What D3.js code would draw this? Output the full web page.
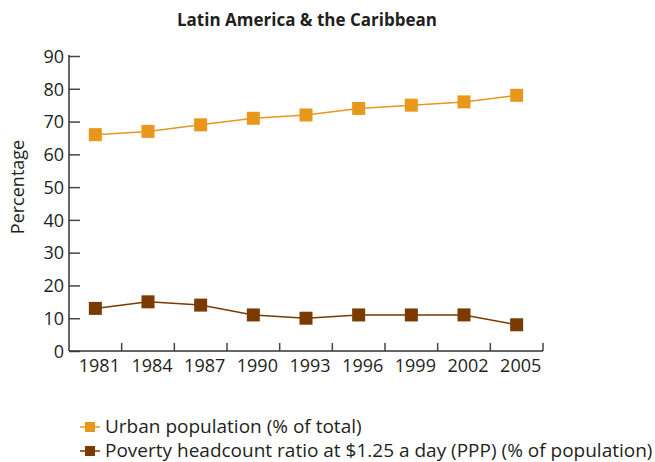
<!DOCTYPE html>
<html>
<head>
<meta charset="utf-8">
<script src="https://cdn.jsdelivr.net/npm/d3@7"></script>
<style>
  body { margin: 0; background: #fff; }
  svg text { font-family: "Open Sans", "Noto Sans", sans-serif; fill: #231f20; }
</style>
</head>
<body>
<div id="chart"></div>
<script>
// data
var years = ["1981", "1984", "1987", "1990", "1993", "1996", "1999", "2002", "2005"];
var urbanValues = [66, 67, 69, 71, 72, 74, 75, 76, 78];
var povertyValues = [13, 15, 14, 11, 10, 11, 11, 11, 8];
var seriesNames = ["Urban population (% of total)", "Poverty headcount ratio at $1.25 a day (PPP) (% of population)"];
var yTicks = [0, 10, 20, 30, 40, 50, 60, 70, 80, 90];

var width = 655, height = 462;
var plotLeft = 69, plotRight = 543, plotTop = 56, plotBottom = 351;
var colors = ["#e8961c", "#7a3a00"];

var svg = d3.select("#chart").append("svg")
  .attr("width", width)
  .attr("height", height);

var x = d3.scaleBand().domain(years).range([plotLeft, plotRight]).padding(0);
var y = d3.scaleLinear().domain([0, 90]).range([plotBottom, plotTop]);

// title
svg.append("text")
  .attr("x", 307).attr("y", 26)
  .attr("text-anchor", "middle")
  .style("font-size", "17px").style("font-weight", "bold")
  .text("Latin America & the Caribbean");

// y axis, ticks pointing inward
var yAxis = svg.append("g")
  .attr("transform", "translate(" + plotLeft + ",0)")
  .call(d3.axisRight(y).tickValues(yTicks).tickSize(11).tickFormat(d3.format("d")));
yAxis.select(".domain").remove();
yAxis.selectAll(".tick line").attr("stroke", "#444").attr("stroke-width", 1.5);
yAxis.selectAll(".tick text")
  .attr("x", -5).attr("dy", "0.35em")
  .attr("text-anchor", "end")
  .style("font-size", "18px").style("font-family", "'Open Sans', sans-serif");
svg.append("line")
  .attr("x1", plotLeft).attr("x2", plotLeft)
  .attr("y1", y(90) - 1).attr("y2", plotBottom)
  .attr("stroke", "#333").attr("stroke-width", 1.5);

// x axis: labels at band centres, ticks at band edges pointing up
var xAxis = svg.append("g")
  .attr("transform", "translate(0," + plotBottom + ")")
  .call(d3.axisBottom(x).tickSize(0).tickPadding(8));
xAxis.select(".domain").remove();
xAxis.selectAll(".tick text")
  .attr("dx", 4)
  .style("font-size", "18px").style("font-family", "'Open Sans', sans-serif");
svg.append("g").selectAll("line")
  .data(years)
  .join("line")
  .attr("x1", d => x(d) + x.bandwidth()).attr("x2", d => x(d) + x.bandwidth())
  .attr("y1", plotBottom).attr("y2", plotBottom - 8)
  .attr("stroke", "#444").attr("stroke-width", 1.5);
svg.append("line")
  .attr("x1", plotLeft).attr("x2", plotRight)
  .attr("y1", plotBottom).attr("y2", plotBottom)
  .attr("stroke", "#333").attr("stroke-width", 1.5);

// y axis title
svg.append("text")
  .attr("transform", "translate(24,187) rotate(-90)")
  .attr("text-anchor", "middle")
  .style("font-size", "18px")
  .text("Percentage");

// series
var series = [urbanValues, povertyValues];
var line = d3.line()
  .x((d, i) => x(years[i]) + x.bandwidth() / 2)
  .y(d => y(d));
var ms = 13;

series.forEach(function(vals, k) {
  svg.append("path")
    .datum(vals)
    .attr("d", line)
    .attr("fill", "none")
    .attr("stroke", colors[k])
    .attr("stroke-width", 1.5);
  svg.append("g").selectAll("rect")
    .data(vals)
    .join("rect")
    .attr("x", (d, i) => x(years[i]) + x.bandwidth() / 2 - ms / 2)
    .attr("y", d => y(d) - ms / 2)
    .attr("width", ms).attr("height", ms)
    .attr("fill", colors[k]);
});

// legend
var legend = svg.append("g");
seriesNames.forEach(function(name, k) {
  var ly = 427 + k * 24;
  legend.append("line")
    .attr("x1", 80).attr("x2", 100)
    .attr("y1", ly).attr("y2", ly)
    .attr("stroke", colors[k]).attr("stroke-width", 1.5);
  legend.append("rect")
    .attr("x", 90 - 5).attr("y", ly - 5)
    .attr("width", 10).attr("height", 10)
    .attr("fill", colors[k]);
  legend.append("text")
    .attr("x", 105).attr("y", ly + 6)
    .style("font-size", "19px")
    .text(name);
});
</script>
</body>
</html>
